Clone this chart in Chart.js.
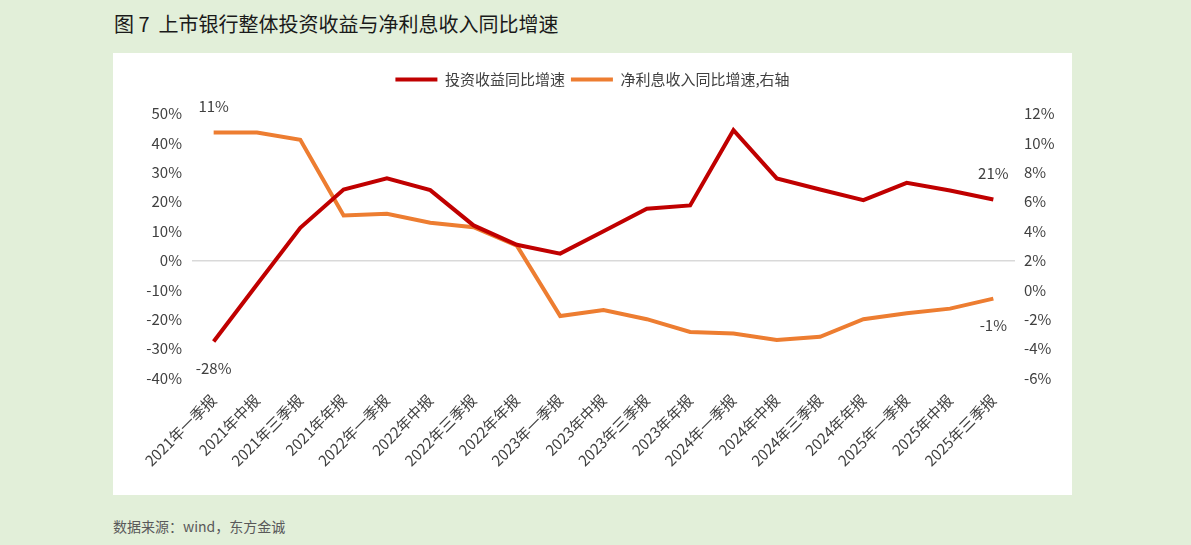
<!DOCTYPE html>
<html>
<head>
<meta charset="utf-8">
<script src="https://cdn.jsdelivr.net/npm/chart.js@4"></script>
<style>
  html, body { margin: 0; padding: 0; }
  body { width: 1191px; height: 545px; background: #e2efd9; position: relative; overflow: hidden;
         font-family: "Noto Sans CJK SC", "Noto Sans", sans-serif; }
  #title { position: absolute; left: 114px; top: 9px; font-size: 20px; color: #1a1a1a; white-space: pre; }
  #box { position: absolute; left: 113px; top: 53px; width: 959px; height: 442px; background: #fff; }
  #source { position: absolute; left: 113px; top: 516px; font-size: 14px; color: #595959; white-space: pre; }
</style>
</head>
<body>
<div id="title">图 7  上市银行整体投资收益与净利息收入同比增速</div>
<div id="box"><canvas id="chart"></canvas></div>
<div id="source">数据来源：wind，东方金诚</div>
<script>
const periods = [
  '2021年一季报', '2021年中报', '2021年三季报', '2021年年报',
  '2022年一季报', '2022年中报', '2022年三季报', '2022年年报',
  '2023年一季报', '2023年中报', '2023年三季报', '2023年年报',
  '2024年一季报', '2024年中报', '2024年三季报', '2024年年报',
  '2025年一季报', '2025年中报', '2025年三季报'
];
// 投资收益同比增速 (%), left axis
const investGrowth = [-27.6, -8.2, 11.1, 24.1, 27.9, 23.9, 11.9, 5.3, 2.3, 9.9,
  17.6, 18.7, 44.3, 27.9, 24.1, 20.5, 26.4, 23.8, 20.7];
// 净利息收入同比增速 (%), right axis
const netInterestGrowth = [10.7, 10.7, 10.2, 5.06, 5.17, 4.56, 4.26, 3.0, -1.78, -1.37,
  -2.0, -2.87, -2.98, -3.41, -3.2, -2.0, -1.6, -1.28, -0.6];

const leftTicks = { min: -40, max: 50, step: 10 };
const rightTicks = { min: -6, max: 12, step: 2 };

// which points get a value label: [datasetIndex, pointIndex, above?]
const pointLabels = [[0, 0, false], [0, 18, true], [1, 0, true], [1, 18, false]];

const textColor = '#404040';
const cjk = '"Noto Sans CJK SC", "Noto Sans", sans-serif';

const valueLabels = {
  id: 'valueLabels',
  afterDatasetsDraw(chart) {
    const ctx = chart.ctx;
    ctx.save();
    ctx.font = '15px ' + cjk;
    ctx.fillStyle = textColor;
    ctx.textAlign = 'center';
    ctx.textBaseline = 'middle';
    pointLabels.forEach(([ds, i, above]) => {
      const pt = chart.getDatasetMeta(ds).data[i];
      const v = chart.data.datasets[ds].data[i];
      ctx.fillText(Math.round(v) + '%', pt.x, pt.y + (above ? -26 : 27));
    });
    ctx.restore();
  }
};

new Chart(document.getElementById('chart'), {
  type: 'line',
  data: {
    labels: periods,
    datasets: [{
      label: '投资收益同比增速',
      data: investGrowth,
      yAxisID: 'y',
      borderColor: '#c00000',
      backgroundColor: '#c00000',
      borderWidth: 4,
      pointRadius: 0,
      tension: 0
    }, {
      label: '净利息收入同比增速,右轴',
      data: netInterestGrowth,
      yAxisID: 'y1',
      borderColor: '#ed7d31',
      backgroundColor: '#ed7d31',
      borderWidth: 4,
      pointRadius: 0,
      tension: 0
    }]
  },
  options: {
    responsive: true,
    maintainAspectRatio: false,
    animation: false,
    layout: { padding: { top: 13, left: 0, right: 0, bottom: 0 } },
    plugins: {
      tooltip: { enabled: false },
      legend: {
        position: 'top',
        labels: {
          boxWidth: 42,
          boxHeight: 4,
          padding: 6,
          color: textColor,
          font: { size: 15, family: cjk },
          generateLabels(chart) {
            const items = Chart.defaults.plugins.legend.labels.generateLabels(chart);
            items.forEach(it => { it.lineWidth = 0; });
            return items;
          }
        }
      },
      title: { display: true, text: '', position: 'top', weight: 500, padding: 1, font: { size: 12 } }
    },
    scales: {
      x: {
        offset: true,
        grid: { display: false },
        border: { display: false },
        ticks: {
          color: textColor,
          font: { size: 15, family: cjk },
          minRotation: 45,
          maxRotation: 45,
          autoSkip: false,
          padding: 5
        },
        afterFit(scale) { scale.height = 117; }
      },
      y: {
        position: 'left',
        min: leftTicks.min,
        max: leftTicks.max,
        border: { display: false },
        grid: {
          drawTicks: false,
          color: c => (c.tick && c.tick.value === 0 ? '#d9d9d9' : 'rgba(0,0,0,0)'),
          lineWidth: 1.5
        },
        ticks: {
          stepSize: leftTicks.step,
          color: textColor,
          font: { size: 15, family: cjk },
          padding: 10,
          callback: v => v + '%'
        },
        afterFit(scale) { scale.width = 79; }
      },
      y1: {
        position: 'right',
        min: rightTicks.min,
        max: rightTicks.max,
        border: { display: false },
        grid: { display: false, drawTicks: false },
        ticks: {
          stepSize: rightTicks.step,
          color: textColor,
          font: { size: 15, family: cjk },
          padding: 9,
          callback: v => v + '%'
        },
        afterFit(scale) { scale.width = 57; }
      }
    }
  },
  plugins: [valueLabels]
});
</script>
</body>
</html>
